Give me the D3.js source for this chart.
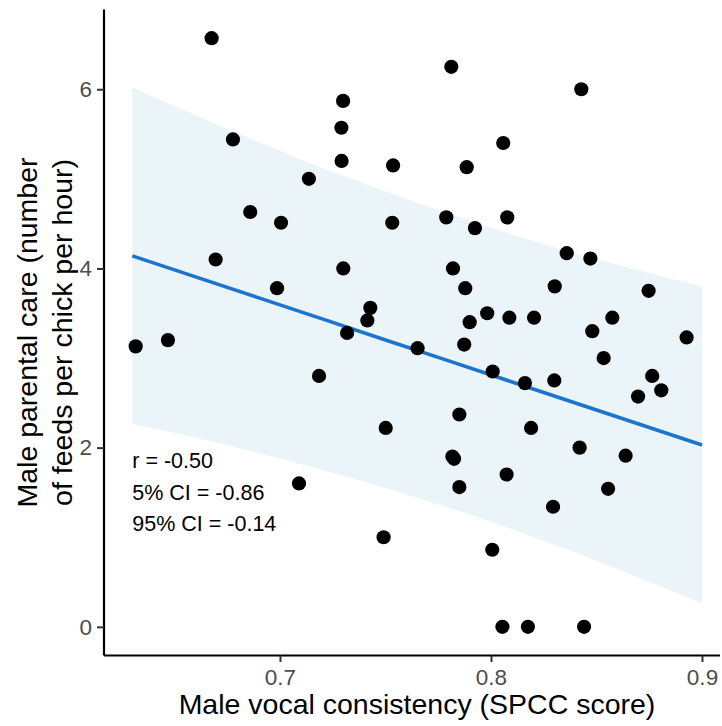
<!DOCTYPE html>
<html>
<head>
<meta charset="utf-8">
<script src="https://cdn.jsdelivr.net/npm/d3@7"></script>
<style>
  html, body { margin: 0; padding: 0; background: #fff; }
  svg { display: block; font-family: "Liberation Sans", Arial, sans-serif; }
</style>
</head>
<body>
<svg id="chart" width="722" height="726"></svg>
<script>
// Male vocal consistency (SPCC score) per bird
const spcc = [
  0.6676, 0.7812, 0.8428, 0.7299, 0.7291, 0.6777, 0.8058, 0.7292, 0.7536, 0.7885,
  0.7137, 0.6859, 0.7005, 0.7532, 0.7788, 0.8077, 0.7924, 0.8359, 0.8471, 0.6695,
  0.7300, 0.7820, 0.6986, 0.7878, 0.8302, 0.8747, 0.7428, 0.7414, 0.7899, 0.7982,
  0.8087, 0.8204, 0.8575, 0.7318, 0.8480, 0.8927, 0.6316, 0.6469, 0.7652, 0.7873,
  0.8534, 0.8008, 0.8161, 0.8300, 0.8764, 0.8807, 0.8697, 0.7185, 0.7850, 0.8190,
  0.7501, 0.8420, 0.8638, 0.7817, 0.7825, 0.8074, 0.7850, 0.8555, 0.7090, 0.8294,
  0.7491, 0.8006, 0.8054, 0.8175, 0.8441
];
// Male parental care (number of feeds per chick per hour) per bird
const feeds = [
  6.57, 6.25, 6.00, 5.87, 5.57, 5.44, 5.40, 5.20, 5.15, 5.13,
  5.00, 4.63, 4.51, 4.51, 4.57, 4.57, 4.45, 4.17, 4.11, 4.10,
  4.00, 4.00, 3.78, 3.78, 3.80, 3.75, 3.56, 3.42, 3.40, 3.50,
  3.45, 3.45, 3.45, 3.28, 3.30, 3.23, 3.13, 3.20, 3.11, 3.15,
  3.00, 2.85, 2.72, 2.75, 2.80, 2.64, 2.57, 2.80, 2.37, 2.22,
  2.22, 2.00, 1.91, 1.90, 1.875, 1.70, 1.56, 1.54, 1.60, 1.34,
  1.00, 0.86, 0.00, 0.00, 0.00
];

// Fitted trend and its interval band
const fitX  = [0.63, 0.66, 0.69, 0.72, 0.75, 0.78, 0.81, 0.84, 0.87, 0.90];
const fitY  = [4.140, 3.906, 3.671, 3.437, 3.202, 2.968, 2.733, 2.499, 2.264, 2.030];
const bandLo = [2.26, 2.11, 1.94, 1.75, 1.55, 1.33, 1.09, 0.83, 0.55, 0.26];
const bandHi = [6.02, 5.71, 5.41, 5.12, 4.86, 4.61, 4.38, 4.17, 3.98, 3.80];

// Correlation summary
const statLabels = ["r = -0.50", "5% CI = -0.86", "95% CI = -0.14"];

// Axis ticks
const xTicks = [0.7, 0.8, 0.9];
const yTicks = [0, 2, 4, 6];

const xTitle = "Male vocal consistency (SPCC score)";
const yTitle = ["Male parental care (number", "of feeds per chick per hour)"];

const svg = d3.select("#chart");

const panel = { left: 104, right: 720, top: 9.5, bottom: 655.5 };

const x = d3.scaleLinear()
  .domain([0.61659, 0.90853])
  .range([panel.left, panel.right]);
const y = d3.scaleLinear()
  .domain([-0.32, 6.89])
  .range([panel.bottom, panel.top]);

const band = fitX.map((v, i) => ({ x: v, lo: bandLo[i], hi: bandHi[i], fit: fitY[i] }));

// interval ribbon
svg.append("path")
  .datum(band)
  .attr("fill", "#EBF5F9")
  .attr("d", d3.area()
    .x(d => x(d.x))
    .y0(d => y(d.lo))
    .y1(d => y(d.hi))
    .curve(d3.curveMonotoneX));

// fitted line
svg.append("path")
  .datum(band)
  .attr("fill", "none")
  .attr("stroke", "#1B74D0")
  .attr("stroke-width", 3.6)
  .attr("d", d3.line().x(d => x(d.x)).y(d => y(d.fit)));

// points
svg.append("g")
  .selectAll("circle")
  .data(spcc.map((v, i) => ({ x: v, y: feeds[i] })))
  .join("circle")
  .attr("cx", d => x(d.x))
  .attr("cy", d => y(d.y))
  .attr("r", 7.1)
  .attr("fill", "#000");

// correlation annotation
svg.append("g")
  .selectAll("text")
  .data(statLabels)
  .join("text")
  .attr("x", x(0.63))
  .attr("y", (d, i) => 468 + i * 31.5)
  .attr("font-size", 21.5)
  .attr("fill", "#000")
  .text(d => d);

// axes
const xAxis = svg.append("g")
  .attr("transform", `translate(0,${panel.bottom})`)
  .call(d3.axisBottom(x).tickValues(xTicks).tickFormat(d3.format(".1f")).tickSize(6.5).tickPadding(7));
const yAxis = svg.append("g")
  .attr("transform", `translate(${panel.left},0)`)
  .call(d3.axisLeft(y).tickValues(yTicks).tickFormat(d3.format("d")).tickSize(7).tickPadding(5));

[xAxis, yAxis].forEach(g => {
  g.attr("font-size", null).attr("font-family", null);
  g.select(".domain").attr("stroke", "#000").attr("stroke-width", 2.2);
  g.selectAll(".tick line").attr("stroke", "#333").attr("stroke-width", 2);
  g.selectAll(".tick text")
    .attr("fill", "#4D4D4D")
    .style("font-size", "22.5px")
    .style("font-family", "'Liberation Sans', Arial, sans-serif");
});
xAxis.select(".domain").attr("d", `M${panel.left},0H${panel.right}`);
yAxis.select(".domain").attr("d", `M0,${panel.top}V${panel.bottom}`);

// axis titles
svg.append("text")
  .attr("x", (panel.left + panel.right) / 2 + 5)
  .attr("y", 714)
  .attr("text-anchor", "middle")
  .attr("font-size", 28.5)
  .attr("fill", "#000")
  .text(xTitle);

const yt = svg.append("text")
  .attr("transform", `translate(37,${(panel.top + panel.bottom) / 2}) rotate(-90)`)
  .attr("text-anchor", "middle")
  .attr("font-size", 28.5)
  .attr("fill", "#000");
yt.selectAll("tspan")
  .data(yTitle)
  .join("tspan")
  .attr("x", 0)
  .attr("dy", (d, i) => i === 0 ? 0 : 35)
  .text(d => d);
</script>
</body>
</html>
